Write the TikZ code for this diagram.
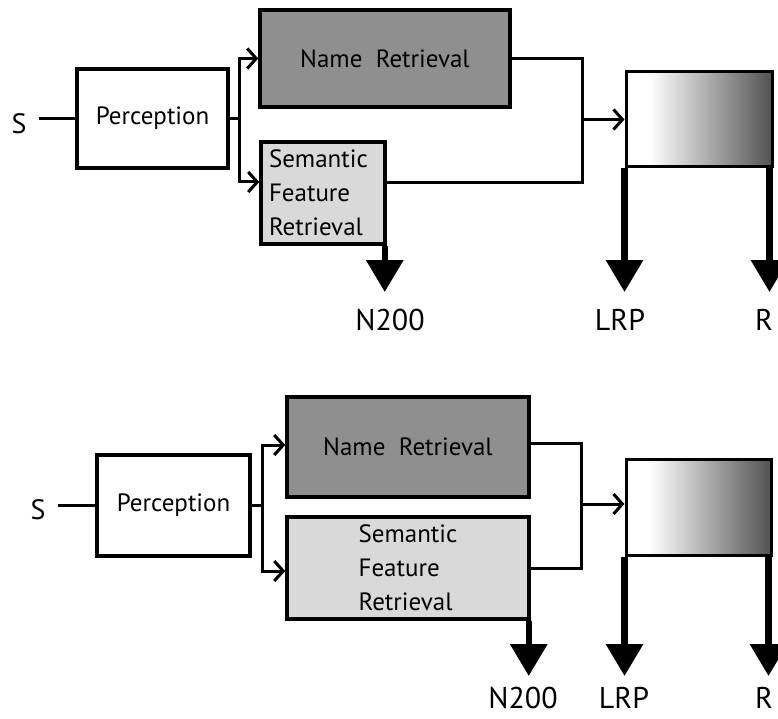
\documentclass[tikz,border=0pt]{standalone}
\usepackage{fontspec}
\setmainfont{PT Sans}
\usetikzlibrary{arrows.meta}

\pgfdeclarehorizontalshading{resgrad}{100bp}{color(0bp)=(white); color(33bp)=(white); color(75bp)=(black!68); color(100bp)=(black!68)}

\tikzset{
  stage/.style={draw, line width=3.5pt, inner sep=8pt, font=\fontsize{25}{34}\selectfont},
  namebox/.style={stage, fill=black!44},
  featbox/.style={stage, fill=black!15, align=left},
  resbox/.style={draw, line width=3pt, shade, shading=resgrad},
  wire/.style={line width=3pt},
  thinarrow/.style={-{Straight Barb[length=9pt,width=20pt]}},
  bigarrow/.style={line width=6.5pt, -{Triangle[width=36pt,length=32pt]}},
  stim/.style={inner sep=0pt, font=\fontsize{28}{32}\selectfont},
  erp/.style={inner sep=0pt, font=\fontsize{30}{34}\selectfont}
}

\begin{document}
\begin{tikzpicture}[x=1pt, y=-1pt]
\useasboundingbox (0,0) rectangle (778,719);
\clip (0,0) rectangle (778,719);

\node[stim] (s1) at (19,124) {S};
\node[stage, minimum width=151pt, minimum height=99pt] (perc1) at (152.5,118.5) {Perception};
\node[namebox, minimum width=250pt, minimum height=97pt] (name1) at (385,58.5) {Name\ \ Retrieval};
\node[featbox, minimum width=124pt, minimum height=98pt, text width=108pt] (sem1) at (323,193) {Semantic\\Feature\\Retrieval};
\node[resbox, minimum width=146pt, minimum height=95pt] (res1) at (699,119.5) {};
\coordinate (j1) at (239,118.5);
\coordinate (m1) at (582,119.5);
\coordinate (tip1) at (0,292);
\node[erp, anchor=base] (n1) at (390,330) {N200};
\node[erp, anchor=base] (lrp1) at (620,330) {LRP};
\node[erp, anchor=base west] (r1) at (755,330) {R};

\draw[wire, shorten <=12pt] (perc1.west -| s1.east) -- (perc1.west);
\draw[wire] (perc1.east) -- (j1);
\draw[wire, thinarrow] (j1) |- (name1.west);
\draw[wire, thinarrow] (j1) |- ([yshift=11pt]sem1.west);
\draw[wire] (name1.east) -| (m1) |- ([yshift=10pt]sem1.east);
\draw[wire, thinarrow] (m1) -- (m1 -| res1.west);
\draw[bigarrow] ([xshift=-2pt]sem1.south east) -- ([xshift=-2pt]sem1.south east |- tip1);
\draw[bigarrow] (res1.south west) -- (res1.south west |- tip1);
\draw[bigarrow] ([xshift=-4pt]res1.south east) -- ([xshift=-4pt]res1.south east |- tip1);

\node[stim] (s2) at (38,510) {S};
\node[stage, minimum width=153pt, minimum height=101pt] (perc2) at (173.5,505.5) {Perception};
\node[namebox, minimum width=242pt, minimum height=100pt] (name2) at (408,447) {Name\ \ Retrieval};
\node[featbox, minimum width=242pt, minimum height=100pt] (sem2) at (408,568) {Semantic\\Feature\\Retrieval};
\node[resbox, minimum width=145pt, minimum height=96pt] (res2) at (698.5,507) {};
\coordinate (j2) at (262,505.5);
\coordinate (m2) at (581,504);
\coordinate (tip2) at (0,676);
\node[erp, anchor=base] (n2) at (523,708) {N200};
\node[erp, anchor=base] (lrp2) at (624,708) {LRP};
\node[erp, anchor=base west] (r2) at (755,708) {R};

\draw[wire, shorten <=12pt] (perc2.west -| s2.east) -- (perc2.west);
\draw[wire] (perc2.east) -- (j2);
\draw[wire, thinarrow] (j2) |- ([yshift=2pt]name2.west);
\draw[wire, thinarrow] (j2) |- ([yshift=-3pt]sem2.west);
\draw[wire] ([yshift=4pt]name2.east) -| (m2) |- (sem2.east);
\draw[wire, thinarrow] (m2) -- (m2 -| res2.west);
\draw[bigarrow] ([xshift=-2pt]sem2.south east) -- ([xshift=-2pt]sem2.south east |- tip2);
\draw[bigarrow] (res2.south west) -- (res2.south west |- tip2);
\draw[bigarrow] ([xshift=-4pt]res2.south east) -- ([xshift=-4pt]res2.south east |- tip2);
\end{tikzpicture}
\end{document}
